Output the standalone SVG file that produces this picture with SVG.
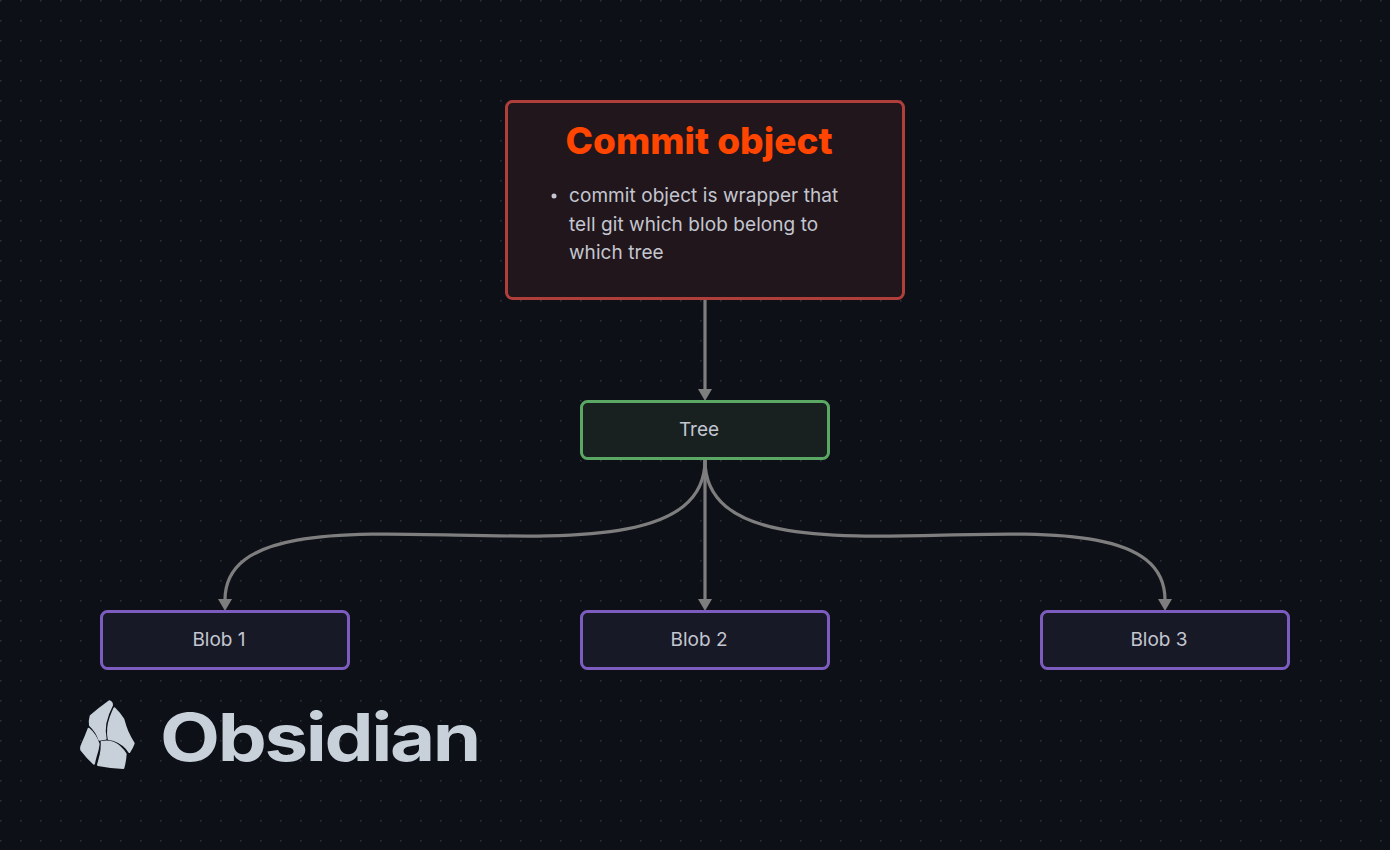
<svg xmlns="http://www.w3.org/2000/svg" width="1390" height="850" viewBox="0 0 1390 850">
<style>
.node{stroke-width:3}
.red{fill:#21161b;stroke:#b03f3b}
.green{fill:#182120;stroke:#5aa864}
.purple{fill:#181926;stroke:#7c5cbf}
text{font-family:Inter,"Noto Sans",sans-serif;font-size:19px;fill:#c3c6d0}
.body{letter-spacing:.07px}
.edge{fill:none;stroke:#7e7e7e;stroke-width:3.200}
.head{fill:#7e7e7e}
.rock{fill:#c8d0d9;stroke:#c8d0d9;stroke-width:6;stroke-linejoin:round}
</style>
<defs>
<pattern id="dots" width="20" height="20" patternUnits="userSpaceOnUse">
<rect x="0" y="0" width="2" height="2" fill="#1c1f26"/>
<rect x="0" y="0" width="1" height="1" fill="#2f3239"/>
</pattern>
</defs>
<rect width="1390" height="850" fill="#0d1017"/>
<rect width="1390" height="850" fill="url(#dots)"/>
<g id="connectors">
<path class="edge" d="M705 300V392"/>
<path class="head" d="M698 389H712L705 401Z"/>
<path class="edge" d="M705 460C705 618 225 456 225 600"/>
<path class="head" d="M218 599H232L225 611Z"/>
<path class="edge" d="M705 460V602"/>
<path class="head" d="M698 599H712L705 611Z"/>
<path class="edge" d="M705 460C705 618 1165 456 1165 600"/>
<path class="head" d="M1158 599H1172L1165 611Z"/>
</g>
<g id="commit">
<rect class="node red" x="506.500" y="101.500" width="397" height="197" rx="6"/>
<text x="699" y="154" text-anchor="middle" style="font-size:37px;font-weight:800;fill:#ff4500">Commit object</text>
<circle cx="554" cy="196" r="2.500" fill="#c3c6d0"/>
<text class="body" x="569" y="202">commit object is wrapper that</text>
<text class="body" x="569" y="231">tell git which blob belong to</text>
<text class="body" x="569" y="259">which tree</text>
</g>
<g id="tree">
<rect class="node green" x="581.500" y="401.500" width="247" height="57" rx="6"/>
<text x="699" y="436" text-anchor="middle">Tree</text>
</g>
<g id="blob1">
<rect class="node purple" x="101.500" y="611.500" width="247" height="57" rx="6"/>
<text x="219" y="646" text-anchor="middle">Blob 1</text>
</g>
<g id="blob2">
<rect class="node purple" x="581.500" y="611.500" width="247" height="57" rx="6"/>
<text x="699" y="646" text-anchor="middle">Blob 2</text>
</g>
<g id="blob3">
<rect class="node purple" x="1041.500" y="611.500" width="247" height="57" rx="6"/>
<text x="1159" y="646" text-anchor="middle">Blob 3</text>
</g>
<g id="logo">
<g transform="translate(70 690) scale(.3333)">
<path class="rock" d="M118 34Q126 36 126 46Q112 72 106 100Q102 125 107 146Q96 147 88 149Q80 125 60 106Q58 92 62 78Q90 54 118 34Z"/>
<path class="rock" d="M133 55Q150 72 160 88Q166 110 172 124Q180 142 191 160Q186 174 178 186Q164 162 132 150Q124 148 116 147Q110 115 122 82Q127 68 133 55Z"/>
<path class="rock" d="M56 116Q76 132 86 162Q84 180 78 196Q74 210 72 221Q52 204 34 180Q32 172 36 164Q48 138 56 116Z"/>
<path class="rock" d="M95 156Q112 152 130 158Q152 168 167 192Q166 212 160 234Q122 232 84 225Q88 210 92 194Q96 176 95 156Z"/>
</g>
<text x="160" y="761" textLength="319" lengthAdjust="spacingAndGlyphs" style="font-size:66px;font-weight:700;letter-spacing:-2px;fill:#c8d0d9">Obsidian</text>
</g>
</svg>
